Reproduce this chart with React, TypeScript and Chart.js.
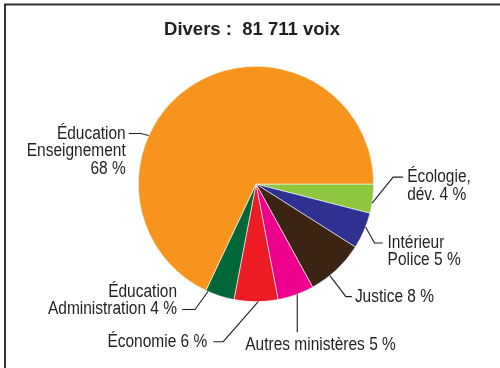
import React, { useEffect, useRef } from "react";
import { Chart, registerables } from "chart.js";

Chart.register(...registerables);

const titleText = "Divers :  81 711 voix";
const categories = [
  "Écologie, dév.",
  "Intérieur Police",
  "Justice",
  "Autres ministères",
  "Économie",
  "Éducation Administration",
  "Éducation Enseignement",
];
const shares = [4, 5, 8, 5, 6, 4, 68];
const sliceColors = ["#8DC63F", "#2E3192", "#3C2415", "#EC008C", "#ED1C24", "#006838", "#F7941D"];
const labelLines = [
  ["Écologie,", "dév. {v} %"],
  ["Intérieur", "Police {v} %"],
  ["Justice {v} %"],
  ["Autres ministères {v} %"],
  ["Économie {v} %"],
  ["Éducation", "Administration {v} %"],
  ["Éducation", "Enseignement", "{v} %"],
];

// leader-line layout (relative to slice anchor)
const leaderLayout = [
  { t: 0.65, ex: 21, ey: -26, h: 10, tdx: 4, tdy: 0, align: "left", ref: 0 },
  { t: 0.39, ex: 9, ey: 16, h: 8, tdx: 5, tdy: 0, align: "left", ref: 0 },
  { t: 0.65, ex: 16, ey: 21, h: 6, tdx: 3, tdy: 0, align: "left", ref: 0 },
  { t: 0.46, ex: 0, ey: 38, h: 0, tdx: -52, tdy: 13, align: "left", ref: 0 },
  { t: 0.45, ex: -35, ey: 40, h: -10, tdx: -6, tdy: 0, align: "right", ref: 0 },
  { t: 0.92, ex: -13, ey: 18, h: -13, tdx: -5, tdy: 0, align: "right", ref: 1 },
  { t: 0.364, ex: -8, ey: -2, h: -12, tdx: -3, tdy: 0, align: "right", ref: 0 },
];

const TEXT_COLOR = "#231F20";
const LABEL_FONT = "18px 'Liberation Sans', Arial, sans-serif";
const LABEL_SCALE_X = 0.86;
const LINE_H = 17.5;

const decorPlugin = {
  id: "decor",
  afterDraw(chart: any) {
    const ctx = chart.ctx as CanvasRenderingContext2D;
    ctx.save();
    // frame
    ctx.strokeStyle = "#333333";
    ctx.lineWidth = 2;
    ctx.beginPath();
    ctx.moveTo(5, 368);
    ctx.lineTo(5, 4.5);
    ctx.lineTo(500, 4.5);
    ctx.stroke();

    // title
    ctx.fillStyle = TEXT_COLOR;
    ctx.font = "bold 18.5px 'Liberation Sans', Arial, sans-serif";
    ctx.textAlign = "center";
    ctx.textBaseline = "middle";
    ctx.fillText(titleText, 252, 30);

    const meta = chart.getDatasetMeta(0);
    meta.data.forEach((arc: any, i: number) => {
      const L = leaderLayout[i];
      const { x, y, startAngle, endAngle, outerRadius } = arc.getProps(
        ["x", "y", "startAngle", "endAngle", "outerRadius"],
        true
      );
      const a = startAngle + L.t * (endAngle - startAngle);
      const ax = x + Math.cos(a) * outerRadius;
      const ay = y + Math.sin(a) * outerRadius;
      const bx = ax + L.ex;
      const by = ay + L.ey;
      const cx = bx + L.h;
      ctx.strokeStyle = "#231F20";
      ctx.lineWidth = 1.1;
      ctx.beginPath();
      ctx.moveTo(ax, ay);
      ctx.lineTo(bx, by);
      if (L.h !== 0) ctx.lineTo(cx, by);
      ctx.stroke();

      const lines = labelLines[i].map((s) => s.replace("{v}", String(shares[i])));
      ctx.font = LABEL_FONT;
      ctx.fillStyle = TEXT_COLOR;
      ctx.textAlign = L.align as CanvasTextAlign;
      ctx.textBaseline = "middle";
      const tx = cx + L.tdx;
      const ty0 = by + L.tdy - L.ref * LINE_H;
      lines.forEach((s, k) => {
        ctx.save();
        ctx.translate(tx, ty0 + k * LINE_H);
        ctx.scale(LABEL_SCALE_X, 1);
        ctx.fillText(s, 0, 0);
        ctx.restore();
      });
    });
    ctx.restore();
  },
};

export default function App() {
  const ref = useRef<HTMLCanvasElement>(null);
  useEffect(() => {
    if (!ref.current) return;
    const chart = new Chart(ref.current, {
      type: "pie",
      data: {
        labels: categories,
        datasets: [
          {
            data: shares,
            backgroundColor: sliceColors,
            borderColor: "#ffffff",
            borderWidth: 0.6,
          },
        ],
      },
      options: {
        responsive: false,
        animation: false,
        devicePixelRatio: 1,
        rotation: 90,
        layout: { padding: { left: 138, right: 126, top: 66, bottom: 66 } },
        plugins: {
          legend: { display: false },
          tooltip: { enabled: false },
          title: { display: false },
        },
        events: [],
      },
      plugins: [decorPlugin],
    });
    return () => chart.destroy();
  }, []);
  return (
    <div style={{ position: "fixed", left: 0, top: 0, width: 500, height: 368, background: "#fff" }}>
      <canvas ref={ref} width={500} height={368} />
    </div>
  );
}
